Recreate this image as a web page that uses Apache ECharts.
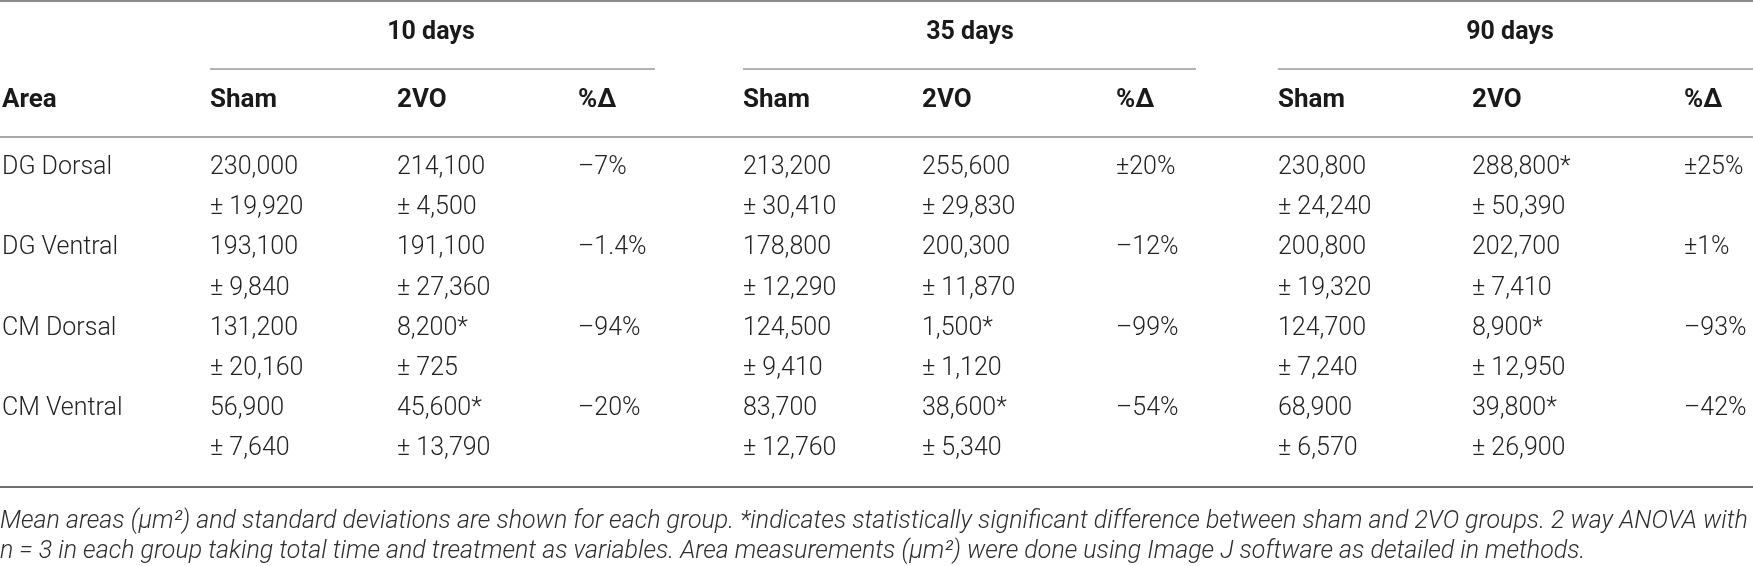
<!DOCTYPE html>
<html>
<head>
<meta charset="utf-8">
<script src="https://cdn.jsdelivr.net/npm/echarts@6/dist/echarts.min.js"></script>
<style>
html,body{margin:0;padding:0;background:#fff;}
#chart{width:1753px;height:566px;}
</style>
</head>
<body>
<div id="chart"></div>
<script>
// ---------- DATA ----------
const areas = ['DG Dorsal', 'DG Ventral', 'CM Dorsal', 'CM Ventral'];
const timePoints = ['10 days', '35 days', '90 days'];
const columnLabels = ['Sham', '2VO', '%Δ'];
const areaHeader = 'Area';

const sham10 = [230000, 193100, 131200, 56900];
const shamSD10 = [19920, 9840, 20160, 7640];
const vo10 = [214100, 191100, 8200, 45600];
const voSD10 = [4500, 27360, 725, 13790];
const sig10 = [false, false, true, true];
const pct10 = ['–7%', '–1.4%', '–94%', '–20%'];

const sham35 = [213200, 178800, 124500, 83700];
const shamSD35 = [30410, 12290, 9410, 12760];
const vo35 = [255600, 200300, 1500, 38600];
const voSD35 = [29830, 11870, 1120, 5340];
const sig35 = [false, false, true, true];
const pct35 = ['±20%', '–12%', '–99%', '–54%'];

const sham90 = [230800, 200800, 124700, 68900];
const shamSD90 = [24240, 19320, 7240, 6570];
const vo90 = [288800, 202700, 8900, 39800];
const voSD90 = [50390, 7410, 12950, 26900];
const sig90 = [true, false, true, true];
const pct90 = ['±25%', '±1%', '–93%', '–42%'];

const captionLines = [
  'Mean areas (μm²) and standard deviations are shown for each group. *indicates statistically significant difference between sham and 2VO groups. 2 way ANOVA with',
  'n = 3 in each group taking total time and treatment as variables. Area measurements (μm²) were done using Image J software as detailed in methods.'
];

// ---------- LAYOUT (axis units = pixels of the 1753x566 canvas) ----------
const W = 1753, H = 566;
const colLeft = [2, 210, 397, 578, 743, 922, 1116, 1278, 1472, 1684];
const groupCenter = [431, 970, 1510];
const groupRule = [[210, 655], [743, 1196], [1278, 1753]];
const yGroup = 33, yHeader = 100, yFirst = 168, yStep = 40.1;
const yCaption = [522, 552];
const rules = [
  {x1: 0, x2: W, y: 1, w: 2, c: '#8c8c8c'},
  {x1: groupRule[0][0], x2: groupRule[0][1], y: 69, w: 1.5, c: '#9a9a9a'},
  {x1: groupRule[1][0], x2: groupRule[1][1], y: 69, w: 1.5, c: '#9a9a9a'},
  {x1: groupRule[2][0], x2: groupRule[2][1], y: 69, w: 1.5, c: '#9a9a9a'},
  {x1: 0, x2: W, y: 137, w: 2, c: '#a8a8a8'},
  {x1: 0, x2: W, y: 487, w: 2.2, c: '#6e6e6e'}
];

const FONT_BODY = "300 25px Roboto, 'Liberation Sans', sans-serif";
const FONT_GROUP = "bold 25px Roboto, 'Liberation Sans', sans-serif";
const FONT_HEAD = "bold 26px Roboto, 'Liberation Sans', sans-serif";
const FONT_CAP = "italic 300 25px Roboto, 'Liberation Sans', sans-serif";

// ---------- BUILD CELLS ----------
const fmt = n => n.toLocaleString('en-US');
const cells = [];
function add(x, y, text, font, align, color) {
  cells.push({x, y, text, font, align: align || 'left', color: color || '#232323'});
}
timePoints.forEach((t, i) => add(groupCenter[i], yGroup, t, FONT_GROUP, 'center', '#1a1a1a'));
add(colLeft[0], yHeader, areaHeader, FONT_HEAD, 'left', '#1a1a1a');
for (let g = 0; g < 3; g++) {
  columnLabels.forEach((c, k) => add(colLeft[1 + g * 3 + k], yHeader, c, FONT_HEAD, 'left', '#1a1a1a'));
}
const groups = [
  [sham10, shamSD10, vo10, voSD10, sig10, pct10],
  [sham35, shamSD35, vo35, voSD35, sig35, pct35],
  [sham90, shamSD90, vo90, voSD90, sig90, pct90]
];
areas.forEach((a, r) => {
  const y1 = yFirst + yStep * (2 * r);
  const y2 = yFirst + yStep * (2 * r + 1);
  add(colLeft[0], y1, a, FONT_BODY);
  groups.forEach((gr, g) => {
    const [sm, ssd, vm, vsd, sig, pct] = gr;
    const base = 1 + g * 3;
    add(colLeft[base], y1, fmt(sm[r]), FONT_BODY);
    add(colLeft[base], y2, '± ' + fmt(ssd[r]), FONT_BODY);
    add(colLeft[base + 1], y1, fmt(vm[r]) + (sig[r] ? '*' : ''), FONT_BODY);
    add(colLeft[base + 1], y2, '± ' + fmt(vsd[r]), FONT_BODY);
    add(colLeft[base + 2], y1, pct[r], FONT_BODY);
  });
});
captionLines.forEach((l, i) => add(0, yCaption[i], l, FONT_CAP, 'left', '#2e2e2e'));

// ---------- CHART ----------
const chart = echarts.init(document.getElementById('chart'), null, {renderer: 'canvas'});
chart.setOption({
  animation: false,
  backgroundColor: '#ffffff',
  grid: {left: 0, right: 0, top: 0, bottom: 0},
  xAxis: {type: 'value', min: 0, max: W, show: false},
  yAxis: {type: 'value', min: 0, max: H, inverse: true, show: false},
  series: [
    {
      type: 'custom',
      silent: true,
      data: rules.map(r => [r.x1, r.y, r.x2]),
      renderItem: function (params, api) {
        const r = rules[params.dataIndex];
        const p1 = api.coord([api.value(0), api.value(1)]);
        const p2 = api.coord([api.value(2), api.value(1)]);
        return {
          type: 'line',
          shape: {x1: p1[0], y1: p1[1], x2: p2[0], y2: p2[1]},
          style: {stroke: r.c, lineWidth: r.w}
        };
      }
    },
    {
      type: 'custom',
      silent: true,
      data: cells.map(c => [c.x, c.y]),
      renderItem: function (params, api) {
        const c = cells[params.dataIndex];
        const p = api.coord([api.value(0), api.value(1)]);
        return {
          type: 'text',
          x: p[0],
          y: p[1],
          style: {
            text: c.text,
            font: c.font,
            fill: c.color,
            align: c.align,
            verticalAlign: 'middle'
          }
        };
      }
    }
  ]
});
</script>
</body>
</html>
